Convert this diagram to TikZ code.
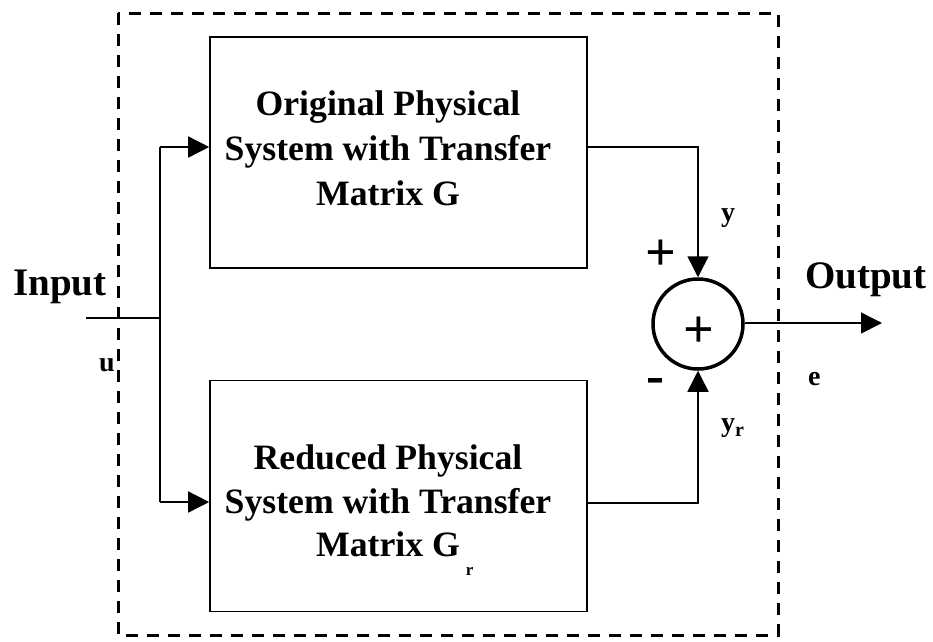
\documentclass[tikz,border=0pt]{standalone}
\usepackage{fontspec}
\setmainfont{Liberation Serif}
\usetikzlibrary{arrows.meta}
\begin{document}
\begin{tikzpicture}[x=1pt,y=-1pt,
  blk/.style={draw,line width=1.6pt,minimum width=377pt,minimum height=231pt,inner sep=0pt},
  boxtext/.style={align=center,inner sep=0pt},
  conn/.style={line width=1.5pt},
  tip/.style={-{Triangle[length=21pt,width=21pt]}},
  lbl/.style={font=\bfseries\fontsize{28pt}{28pt}\selectfont,inner sep=0pt,anchor=base west},
  big/.style={font=\bfseries\fontsize{39pt}{39pt}\selectfont,inner sep=0pt,anchor=base west},
  sign/.style={font=\bfseries\fontsize{54pt}{54pt}\selectfont,inner sep=0pt},
  outline/.style={line width=3pt,dash pattern=on 12pt off 9pt}
]
\useasboundingbox (0,0) rectangle (933,641);

% dashed system boundary
\draw[outline] (118,13) rectangle (778,635);

% blocks
\node[blk] (ub) at (398.5,152.5) {};
\node[blk] (lb) at (398.5,496) {};
\node[boxtext,font=\bfseries\fontsize{35.7pt}{45pt}\selectfont] (ut) at (388,148)
  {Original Physical\\System with Transfer\\Matrix G};
\node[boxtext,font=\bfseries\fontsize{35.7pt}{43.5pt}\selectfont] (lt) at (388,501)
  {Reduced Physical\\System with Transfer\\Matrix G\rlap{\hspace{6pt}\raisebox{-19pt}[0pt][0pt]{\fontsize{17pt}{17pt}\selectfont r}}};

% summing junction
\node[draw,circle,line width=3.5pt,minimum size=90pt,inner sep=0pt] (sum) at (698,324) {};
\node[sign] (splus) at (699,332) {+};

% coordinates
\coordinate (in) at (86,318);
\coordinate (j) at (160,318);
\coordinate (ua) at (160,147);
\coordinate (la) at (160,502);
\coordinate (ur) at (587,147);
\coordinate (lr) at (587,503);
\coordinate (outend) at (882,323);

% connectors
\draw[conn] (in) -- (j);
\draw[conn] (ua) -- (la);
\draw[conn,tip] (ua) -- (ua -| ub.west);
\draw[conn,tip] (la) -- (la -| lb.west);
\draw[conn,tip] (ur) -| (sum.north);
\draw[conn,tip] (lr) -| (sum.south);
\draw[conn,tip] (sum.east |- outend) -- (outend);

% labels
\node[big] (inlbl) at (13,295) {Input};
\node[big] (outlbl) at (805,288) {Output};
\node[lbl] (ulbl) at (99,371) {u};
\node[lbl] (ylbl) at (721,221) {y};
\node[lbl] (yrlbl) at (721,431) {y\raisebox{-5pt}{\fontsize{20pt}{20pt}\selectfont r}};
\node[lbl] (elbl) at (808,385) {e};
\node[sign] (plbl) at (661,255) {+};
\node[sign,anchor=base] (mlbl) at (655,393) {-};
\end{tikzpicture}
\end{document}
